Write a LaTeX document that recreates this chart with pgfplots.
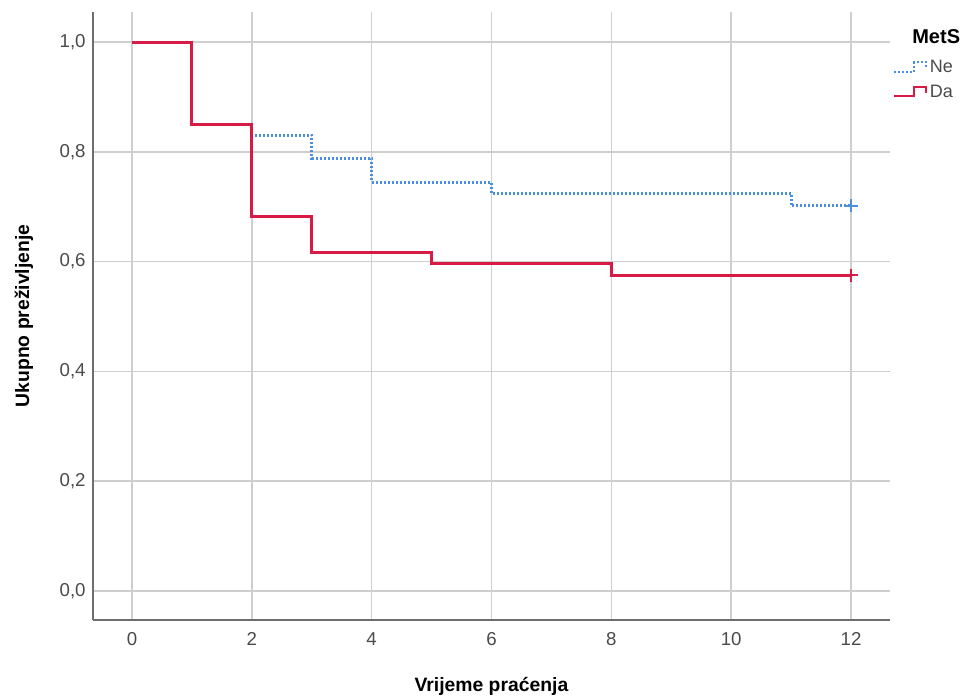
\documentclass[border=0pt]{standalone}
\usepackage{fontspec}
\setmainfont{Liberation Sans}
\usepackage{pgfplots}
\pgfplotsset{compat=1.18}

\definecolor{daRed}{HTML}{D81B45}
\definecolor{neBlue}{HTML}{4A8FE0}
\definecolor{gridGray}{HTML}{CFCFCF}
\definecolor{axGray}{HTML}{6E6E6E}
\definecolor{tickText}{HTML}{4A4A4A}

\pgfplotsset{
  step legend/.style={legend image code/.code={%
    \draw[##1, line width=1.4pt] (0pt,-3pt) -- (15pt,-3pt) -- (15pt,4pt) -- (24pt,4pt) -- (24pt,-1pt);}},
}

\begin{document}
\begin{tikzpicture}
\useasboundingbox (0,0) rectangle (723.75pt,522.75pt);
\begin{axis}[
    at={(69.75pt,57.75pt)}, anchor=south west,
    scale only axis,
    width=597.75pt, height=456pt,
    xmin=-0.65, xmax=12.65,
    ymin=-0.053, ymax=1.055,
    axis lines*=left,
    axis line style={axGray, line width=1.2pt},
    xtick={0,2,...,12},
    ytick={0,0.2,...,1.0},
    major tick length=0pt,
    grid=major,
    major grid style={gridGray, line width=1.2pt},
    tick label style={font=\fontsize{14}{16}\selectfont, text=tickText},
    yticklabel style={/pgf/number format/use comma, /pgf/number format/fixed,
        /pgf/number format/fixed zerofill, /pgf/number format/precision=1, xshift=-2pt},
    /pgf/number format/assume math mode=true,
    xticklabel style={yshift=-6pt},
    xlabel={\textbf{Vrijeme praćenja}},
    ylabel={\textbf{Ukupno preživljenje}},
    label style={font=\fontsize{14.5}{16}\selectfont},
    xlabel style={yshift=-17pt},
    ylabel style={yshift=13pt},
    legend style={at={(1.004,0.925)}, anchor=north west, draw=none, fill=none,
        font=\fontsize{13.5}{15}\selectfont, text=tickText, row sep=3.5pt,
        inner sep=0pt},
    legend cell align=left,
    clip=false,
]
\addplot[neBlue, line width=2.1pt, dash pattern=on 1.5pt off 1.5pt, const plot, step legend]
coordinates {(0,1) (1,0.85) (2,0.830) (3,0.788) (4,0.745) (6,0.724) (11,0.702) (12,0.702)};
\addlegendentry{Ne}
\addplot[daRed, line width=2.4pt, const plot, step legend]
coordinates {(0,1) (1,0.85) (2,0.683) (3,0.617) (5,0.596) (8,0.575) (12,0.575)};
\addlegendentry{Da}
\addplot[neBlue, only marks, mark=+, mark size=5pt, line width=1.4pt, forget plot]
coordinates {(12,0.702)};
\addplot[daRed, only marks, mark=+, mark size=5pt, line width=1.6pt, forget plot]
coordinates {(12,0.575)};
\node[font=\bfseries\fontsize{15}{17}\selectfont, anchor=center] at (rel axis cs:1.058,0.960) {MetS};
\end{axis}
\end{tikzpicture}
\end{document}
